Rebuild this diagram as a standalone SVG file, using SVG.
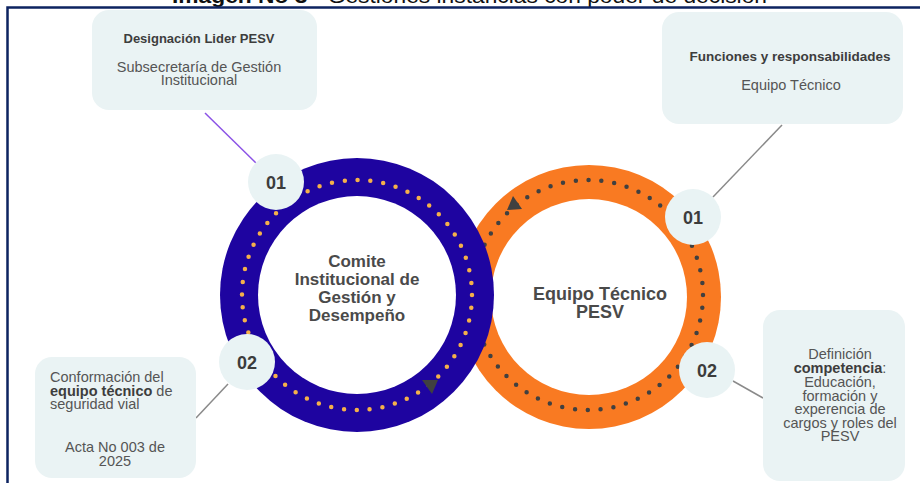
<svg xmlns="http://www.w3.org/2000/svg" width="920" height="483" viewBox="0 0 920 483">
<style>
.box{fill:#eaf3f4}
.badge{fill:#e9f3f4}
.bt{font-family:"Liberation Sans",Arial,sans-serif;font-weight:bold;fill:#3d3d3d}
.rt{font-family:"Liberation Sans",Arial,sans-serif;fill:#555}
.num{font-family:"Liberation Sans",Arial,sans-serif;font-weight:bold;font-size:18px;fill:#3c3c3c;text-anchor:middle}
.ctr{font-family:"Liberation Sans",Arial,sans-serif;font-weight:bold;fill:#4a4a4a;text-anchor:middle}
.con{fill:none;stroke-width:1.5}
</style>
<rect width="920" height="483" fill="#ffffff"/>
<text x="172" y="2.5" font-family="Liberation Sans,Arial,sans-serif" font-size="20" fill="#111" textLength="595" lengthAdjust="spacingAndGlyphs"><tspan font-weight="bold">Imagen No 3</tspan> - Gestiones instancias con poder de decisión</text>
<path d="M7.5 483 V7.5 H920" fill="none" stroke="#0d2360" stroke-width="2.5"/>

<g id="connectors">
<line class="con" x1="205" y1="113" x2="256" y2="163" stroke="#8b52e6"/>
<line class="con" x1="782" y1="125" x2="713" y2="197" stroke="#8a8a8a"/>
<line class="con" x1="196" y1="418" x2="228" y2="384" stroke="#8a8a8a"/>
<line class="con" x1="733" y1="381" x2="763" y2="398" stroke="#8a8a8a"/>
</g>

<g id="ring-equipo">
<circle cx="589" cy="297" r="132" fill="#f97a22"/>
<circle cx="589" cy="297" r="98" fill="#ffffff"/>
<circle cx="588" cy="295" r="115" fill="none" stroke="#404040" stroke-width="4.5" stroke-linecap="round" stroke-dasharray="0 12.904"/>
<polygon points="507,210 522,209 513,196" fill="#404040"/>
<text class="ctr" font-size="18" x="600" y="300">Equipo Técnico</text>
<text class="ctr" font-size="18" x="600" y="318">PESV</text>
</g>

<g id="ring-comite">
<circle cx="357" cy="295" r="137" fill="#1e04a0"/>
<circle cx="357" cy="295" r="99" fill="#ffffff"/>
<circle cx="357" cy="295" r="115" fill="none" stroke="#f5b04a" stroke-width="4.5" stroke-linecap="round" stroke-dasharray="0 12.904"/>
<polygon points="422,380 438,380 432,394" fill="#404040"/>
<text class="ctr" font-size="17" x="357" y="267">Comite</text>
<text class="ctr" font-size="17" x="357" y="285">Institucional de</text>
<text class="ctr" font-size="17" x="357" y="303">Gestión y</text>
<text class="ctr" font-size="17" x="357" y="321">Desempeño</text>
</g>

<g id="badge-c01"><circle class="badge" cx="276" cy="182" r="28"/><text class="num" x="276" y="188.5">01</text></g>
<g id="badge-c02"><circle class="badge" cx="247" cy="362" r="28"/><text class="num" x="247" y="368.5">02</text></g>
<g id="badge-e01"><circle class="badge" cx="693" cy="217" r="28"/><text class="num" x="693" y="223.5">01</text></g>
<g id="badge-e02"><circle class="badge" cx="707" cy="370" r="28"/><text class="num" x="707" y="376.5">02</text></g>

<g id="box-designacion">
<rect class="box" x="92" y="10" width="225" height="100" rx="17"/>
<text class="bt" font-size="13" x="199" y="43" text-anchor="middle">Designación Lider PESV</text>
<text class="rt" font-size="14.5" x="199" y="72" text-anchor="middle">Subsecretaría de Gestión</text>
<text class="rt" font-size="14.5" x="199" y="85" text-anchor="middle">Institucional</text>
</g>

<g id="box-funciones">
<rect class="box" x="662" y="12" width="241" height="112" rx="17"/>
<text class="bt" font-size="13.5" x="790" y="61" text-anchor="middle">Funciones y responsabilidades</text>
<text class="rt" font-size="14.5" x="791" y="90" text-anchor="middle">Equipo Técnico</text>
</g>

<g id="box-conformacion">
<rect class="box" x="35" y="357" width="161" height="121" rx="17"/>
<text class="rt" font-size="14.5" x="50" y="382">Conformación del</text>
<text class="rt" font-size="14.5" x="50" y="396"><tspan font-weight="bold" fill="#3d3d3d">equipo técnico</tspan> de</text>
<text class="rt" font-size="14.5" x="50" y="409">seguridad vial</text>
<text class="rt" font-size="14.5" x="115" y="452" text-anchor="middle">Acta No 003 de</text>
<text class="rt" font-size="14.5" x="115" y="466" text-anchor="middle">2025</text>
</g>

<g id="box-definicion">
<rect class="box" x="763" y="310" width="142" height="171" rx="17"/>
<text class="rt" font-size="14.5" x="840" y="359" text-anchor="middle">Definición</text>
<text class="rt" font-size="14.5" x="840" y="373" text-anchor="middle"><tspan font-weight="bold" fill="#3d3d3d">competencia</tspan>:</text>
<text class="rt" font-size="14.5" x="840" y="387" text-anchor="middle">Educación,</text>
<text class="rt" font-size="14.5" x="840" y="401" text-anchor="middle">formación y</text>
<text class="rt" font-size="14.5" x="840" y="414" text-anchor="middle">experencia de</text>
<text class="rt" font-size="14.5" x="840" y="428" text-anchor="middle">cargos y roles del</text>
<text class="rt" font-size="14.5" x="840" y="441" text-anchor="middle">PESV</text>
</g>
</svg>
